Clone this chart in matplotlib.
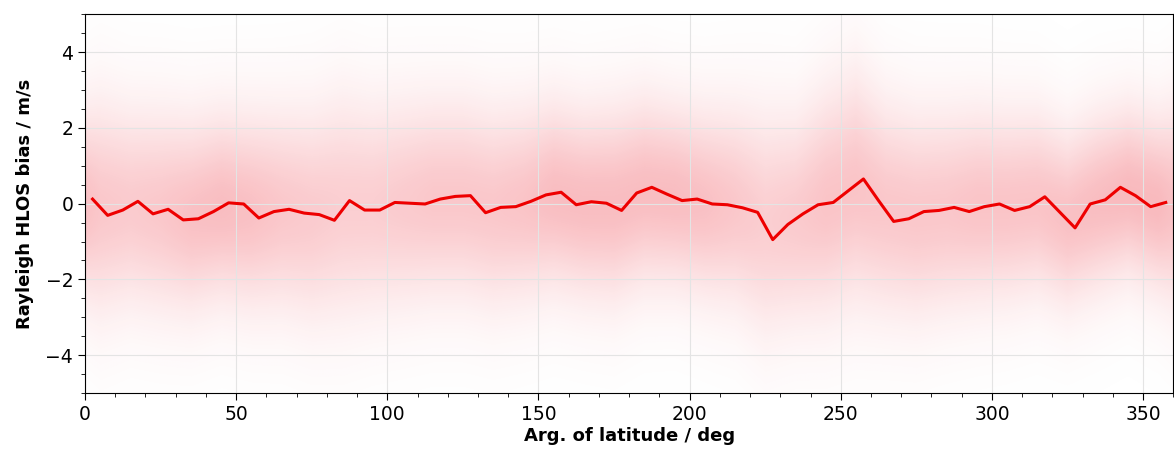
import numpy as np
import matplotlib
matplotlib.use("Agg")
import matplotlib.pyplot as plt
from matplotlib.ticker import MultipleLocator

# binned mean bias (5 deg bins)
bin_centres = np.arange(2.5, 360, 5.0)
mean_bias = [
    0.12, -0.31, -0.17, 0.06, -0.27, -0.15, -0.43, -0.40, -0.21, 0.02,
    -0.01, -0.38, -0.21, -0.15, -0.25, -0.29, -0.44, 0.08, -0.17, -0.17,
    0.03, 0.01, -0.01, 0.12, 0.19, 0.21, -0.24, -0.10, -0.08, 0.06,
    0.23, 0.30, -0.03, 0.05, 0.01, -0.18, 0.28, 0.43, 0.25, 0.08,
    0.12, -0.01, -0.03, -0.11, -0.23, -0.95, -0.55, -0.27, -0.03, 0.03,
    0.34, 0.65, 0.08, -0.47, -0.40, -0.21, -0.18, -0.10, -0.21, -0.08,
    -0.01, -0.18, -0.08, 0.18, -0.23, -0.64, -0.01, 0.10, 0.43, 0.21,
    -0.08, 0.03,
]

# the single-observation cloud (10 deg bins): centre, spread, relative density, estimated by eye
cloud_centres = np.arange(5, 360, 10.0)
cloud_centre = [
    -0.1, -0.1, -0.2, -0.3, -0.1, -0.2, -0.2, -0.3, -0.1, -0.1, 0.0, 0.1,
    0.1, -0.1, 0.0, 0.2, 0.0, 0.0, 0.3, 0.2, 0.0, -0.1, -0.5, -0.4,
    0.0, 0.4, -0.1, -0.3, -0.2, -0.1, -0.1, 0.0, -0.4, 0.0, 0.3, 0.0,
]
cloud_spread = [
    1.7, 1.6, 1.6, 1.55, 1.5, 1.55, 1.6, 1.7, 1.8, 1.7, 1.65, 1.6,
    1.6, 1.6, 1.55, 1.5, 1.5, 1.55, 1.5, 1.45, 1.5, 1.6, 1.8, 1.7,
    1.8, 1.85, 1.7, 1.65, 1.6, 1.55, 1.5, 1.45, 1.4, 1.4, 1.35, 1.4,
]
cloud_density = [
    0.8, 0.75, 0.8, 0.9, 0.95, 0.9, 0.8, 0.75, 0.7, 0.7, 0.75, 0.8,
    0.8, 0.8, 0.85, 0.95, 0.95, 0.95, 0.95, 0.95, 0.9, 0.8, 0.7, 0.75,
    0.85, 0.85, 0.8, 0.8, 0.8, 0.85, 0.85, 0.85, 0.9, 0.95, 1.0, 1.0,
]

fig = plt.figure(figsize=(11.74, 4.55), dpi=100)
ax = fig.add_axes([0.0724, 0.136, 0.927, 0.833])

# cloud drawn as a shaded density band
xs = np.linspace(0, 360, 721)
ys = np.linspace(-5, 5, 401)
cen = np.interp(xs, cloud_centres, cloud_centre, period=360)
sd = np.interp(xs, cloud_centres, cloud_spread, period=360)
dn = np.interp(xs, cloud_centres, cloud_density, period=360)
d = (ys[:, None] - cen[None, :]) / sd[None, :]
z = dn[None, :] * (0.8 * np.exp(-0.5 * d ** 2) + 0.2 * np.exp(-0.5 * (d / 1.5) ** 2))
img = np.zeros((len(ys), len(xs), 4))
img[..., 0] = 0.93
img[..., 1] = 0.15
img[..., 2] = 0.2
img[..., 3] = 0.32 * z
ax.imshow(img, extent=(0, 360, -5, 5), origin="lower", aspect="auto",
          interpolation="bilinear", zorder=1)

ax.plot(bin_centres, mean_bias, color="#ee0000", lw=2.2, zorder=3)

ax.set_xlim(0, 360)
ax.set_ylim(-5, 5)
ax.xaxis.set_major_locator(MultipleLocator(50))
ax.xaxis.set_minor_locator(MultipleLocator(10))
ax.yaxis.set_major_locator(MultipleLocator(2))
ax.yaxis.set_minor_locator(MultipleLocator(0.5))
ax.grid(True, which="major", color="#e4e4e4", lw=0.8, zorder=0)
ax.tick_params(which="major", labelsize=13.5, length=5)
ax.tick_params(which="minor", length=3)
ax.set_xlabel("Arg. of latitude / deg", fontsize=13, fontweight="bold", labelpad=2)
ax.set_ylabel("Rayleigh HLOS bias / m/s", fontsize=13, fontweight="bold", labelpad=8)

fig.savefig("out.png", dpi=100)
